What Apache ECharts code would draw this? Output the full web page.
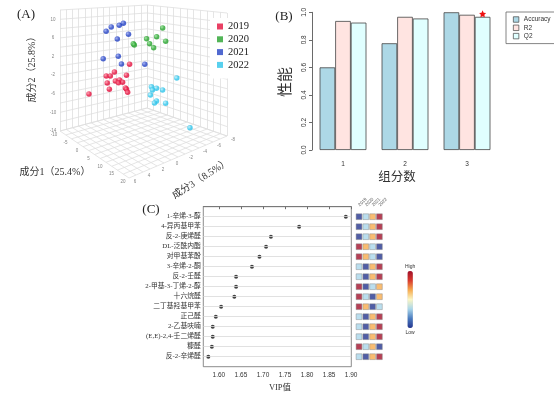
<!DOCTYPE html>
<html><head><meta charset="utf-8">
<script src="https://cdn.jsdelivr.net/npm/echarts@6/dist/echarts.min.js"></script>
<style>html,body{margin:0;padding:0;background:#fff}#c{width:554px;height:395px}</style>
</head><body><div id="c"></div>
<script>
// ---------- Panel A data: [成分1, 成分2, 成分3] ----------
const years = ['2019', '2020', '2021', '2022'];
const pts2019 = [[8.6,3.5,2],[7.3,1.0,2],[-1.1,-1.0,2],[0.6,-0.6,2],[2.3,0.6,2],[-0.7,-2.4,2],[2.7,-1.2,2],[4.4,-0.6,2],[5.7,-0.8,2],[4.0,-1.3,2],[6.9,-1.7,2],[7.3,-1.9,2],[7.8,-2.4,2],[0.2,-3.5,2],[-8.3,-6.7,2]];
const pts2020 = [[11.1,10.1,-2],[8.7,7.9,-2],[12.3,7.5,-2],[4.7,6.9,-2],[5.9,6.0,-2],[7.5,5.4,-2],[-0.6,5.0,-2],[-0.2,4.8,-2]];
const pts2021 = [[-3.8,7.9,1],[-1.7,9.2,1],[1.6,10.1,1],[3.3,10.8,1],[5.4,8.8,1],[0.8,7.0,1],[1.2,3.4,1],[-5.0,1.6,1],[2.5,2.0,1],[12.1,3.8,1]];
const pts2022 = [[14.0,-0.3,-3],[4.0,-4.0,-3],[6.0,-3.9,-3],[4.4,-4.6,-3],[8.4,-3.8,-3],[3.6,-5.9,-3],[6.0,-6.7,-3],[5.2,-7.3,-3],[9.6,-6.4,-3],[19.2,-9.5,-3]];
const pc1Ticks = [-10, -5, 0, 5, 10, 15, 20];
const pc2Ticks = [-14, -10, -6, -2, 2, 6, 10];
const pc3Ticks = [6, 4, 2, 0, -2, -4, -6, -8];
const pc1Range = [-10, 20], pc2Range = [-14, 12], pc3Range = [6, -8];

// ---------- Panel B data ----------
const components = ['1', '2', '3'];
const accuracy = [0.60, 0.775, 1.0];
const r2 = [0.937, 0.967, 0.982];
const q2 = [0.925, 0.955, 0.967];

// ---------- Panel C data ----------
const compounds = ['1-辛烯-3-醇','4-异丙基甲苯','反-2-庚烯醛','DL-泛酰内酯','对甲基苯酚','3-辛烯-2-酮','反-2-壬醛','2-甲基-3-丁烯-2-醇','十六烷醛','二丁基羟基甲苯','正己醛','2-乙基呋喃','(E,E)-2,4-壬二烯醛','糠醛','反-2-辛烯醛'];
const vip = [1.888,1.782,1.718,1.707,1.692,1.675,1.639,1.639,1.635,1.605,1.593,1.586,1.586,1.584,1.576];
const vipTicks = [1.60,1.65,1.70,1.75,1.80,1.85,1.90];
const heatValues = [[1,2,3,4],[1,2,3,4],[1,2,3,4],[4,3,2,1],[4,3,2,1],[2,1,3,4],[2,1,3,4],[4,1,2,3],[4,2,1,3],[4,3,1,2],[2,1,3,4],[2,1,3,4],[2,1,3,4],[4,2,3,1],[2,1,3,4]];

// ---------- styling ----------
const SERIF = "'Liberation Serif','Times New Roman','Noto Sans CJK SC',serif";
const SANS = "'Liberation Sans',Arial,sans-serif";
const yearColors = ['#e3103d', '#27a22d', '#2543c4', '#2ec4ea'];
const yearLight = ['#ff8aa0', '#8de08f', '#8f9ff0', '#b5f0ff'];

// projected box corners (screen layout of the 3D frame)
const box = {L:[60,131], F:[129,178], R:[227,136], B:[147,108], hL:121, hF:140, hR:123, hB:103};
function proj(p1, p2, p3) {
  const a = (p1 - pc1Range[0]) / (pc1Range[1] - pc1Range[0]);
  const b = (pc3Range[0] - p3) / (pc3Range[0] - pc3Range[1]);
  const c = (p2 - pc2Range[0]) / (pc2Range[1] - pc2Range[0]);
  const wL = (1-a)*(1-b), wF = a*(1-b), wR = a*b, wB = (1-a)*b;
  const x = wL*box.L[0] + wF*box.F[0] + wR*box.R[0] + wB*box.B[0];
  const yf = wL*box.L[1] + wF*box.F[1] + wR*box.R[1] + wB*box.B[1];
  const h = wL*box.hL + wF*box.hF + wR*box.hR + wB*box.hB;
  return [x, yf - c*h];
}
const segs = [];
function seg(p, q) { segs.push({coords: [proj(...p), proj(...q)]}); }
for (let v = pc3Range[0]; v >= pc3Range[1]; v -= 1) {
  seg([pc1Range[0], pc2Range[0], v], [pc1Range[0], pc2Range[1], v]);
  seg([pc1Range[0], pc2Range[0], v], [pc1Range[1], pc2Range[0], v]);
}
for (let u = pc1Range[0]; u <= pc1Range[1] + 1e-9; u += 2.5) {
  seg([u, pc2Range[0], pc3Range[1]], [u, pc2Range[1], pc3Range[1]]);
  seg([u, pc2Range[0], pc3Range[0]], [u, pc2Range[0], pc3Range[1]]);
}
for (let w = pc2Range[0]; w <= pc2Range[1] + 1e-9; w += 2) {
  seg([pc1Range[0], w, pc3Range[0]], [pc1Range[0], w, pc3Range[1]]);
  seg([pc1Range[0], w, pc3Range[1]], [pc1Range[1], w, pc3Range[1]]);
}
const tickLabels = [];
pc2Ticks.forEach(t => { const p = proj(pc1Range[0], t, pc3Range[0]); tickLabels.push([p[0]-7, p[1], String(t)]); });
pc1Ticks.forEach(t => { const p = proj(t, pc2Range[0], pc3Range[0]); tickLabels.push([p[0]-6, p[1]+4, String(t)]); });
pc3Ticks.forEach(t => { const p = proj(pc1Range[1], pc2Range[0], t); tickLabels.push([p[0]+6, p[1]+4, String(t)]); });

const yearSets = [pts2019, pts2020, pts2021, pts2022];
const scatterSeries = yearSets.map((pts, i) => ({
  type: 'scatter', name: years[i], xAxisIndex: 0, yAxisIndex: 0, z: 5,
  symbol: 'circle', symbolSize: 5.5,
  itemStyle: { color: new echarts.graphic.RadialGradient(0.35, 0.35, 0.75, [
    {offset: 0, color: yearLight[i]}, {offset: 0.55, color: yearColors[i]}, {offset: 1, color: yearColors[i]}]) },
  data: pts.map(p => proj(p[0], p[1], p[2]))
}));

const heatData = [];
heatValues.forEach((row, r) => row.forEach((v, c) => heatData.push([c + 1, r + 1, v])));

const chart = echarts.init(document.getElementById('c'), null, {renderer: 'canvas'});
chart.setOption({
  animation: false,
  backgroundColor: '#fff',
  grid: [
    {left: 0, top: 0, width: 554, height: 395},
    {left: 312, top: 12.3, width: 186, height: 137.7},
    {left: 203.3, top: 206.7, width: 148, height: 160, show: true, borderColor: '#6e6e6e', borderWidth: 0.8},
    {left: 352.2, top: 206.7, width: 34, height: 160}
  ],
  xAxis: [
    {gridIndex: 0, type: 'value', min: 0, max: 554, show: false},
    {gridIndex: 1, type: 'category', data: components,
      axisLine: {show: false}, axisTick: {show: false},
      axisLabel: {fontSize: 6.5, color: '#333', margin: 11, fontFamily: SANS}},
    {gridIndex: 2, type: 'value', min: 1.5646, max: 1.9004,
      axisLine: {show: true, lineStyle: {color: '#6e6e6e', width: 0.8}},
      axisTick: {show: true, length: 2.5, customValues: vipTicks, lineStyle: {color: '#6e6e6e'}},
      axisLabel: {customValues: vipTicks, formatter: v => v.toFixed(2), fontSize: 6.5, color: '#333', margin: 5, fontFamily: SANS},
      splitLine: {show: false}},
    {gridIndex: 3, type: 'value', min: 0, max: 5, position: 'top',
      axisLine: {show: false}, axisTick: {show: false}, splitLine: {show: false},
      axisLabel: {customValues: [1, 2, 3, 4], formatter: v => years[v - 1], rotate: 45, fontSize: 4.5, color: '#555', margin: 1, fontFamily: SANS}}
  ],
  yAxis: [
    {gridIndex: 0, type: 'value', min: 0, max: 395, inverse: true, show: false},
    {gridIndex: 1, type: 'value', min: 0, max: 1, interval: 0.2,
      axisLine: {show: true, lineStyle: {color: '#444', width: 0.8}},
      axisTick: {show: true, length: 3, lineStyle: {color: '#444', width: 0.8}},
      axisLabel: {rotate: 90, fontSize: 6.5, color: '#333', margin: 4, formatter: v => v.toFixed(1), fontFamily: SANS},
      splitLine: {show: false}},
    {gridIndex: 2, type: 'value', min: 0, max: 16, inverse: true,
      axisLine: {show: false}, axisTick: {show: false}, splitLine: {show: false},
      axisLabel: {customValues: compounds.map((_, i) => i + 1), formatter: v => compounds[v - 1], fontSize: 6.8, color: '#333', margin: 2.5, fontFamily: SERIF}},
    {gridIndex: 3, type: 'value', min: 0, max: 16, inverse: true, show: false}
  ],
  legend: [
    {data: years.map((y, i) => ({name: y, itemStyle: {color: yearColors[i]}})),
      orient: 'vertical', left: 210, top: 18, padding: [3, 3, 8, 7], backgroundColor: '#fff',
      icon: 'rect', itemWidth: 6, itemHeight: 6, itemGap: 1.8,
      textStyle: {fontSize: 10.5, lineHeight: 11, color: '#222', fontFamily: SERIF}},
    {data: [
        {name: 'Accuracy', itemStyle: {color: '#add8e6', borderColor: '#444', borderWidth: 0.7}},
        {name: 'R2', itemStyle: {color: '#ffe4e1', borderColor: '#444', borderWidth: 0.7}},
        {name: 'Q2', itemStyle: {color: '#e0ffff', borderColor: '#444', borderWidth: 0.7}}],
      orient: 'vertical', left: 506, top: 12,
      padding: [4, 4, 4, 7], borderColor: '#666', borderWidth: 0.8, backgroundColor: '#fff',
      icon: 'rect', itemWidth: 5.5, itemHeight: 5.5, itemGap: 1.3,
      textStyle: {fontSize: 6.5, lineHeight: 7, color: '#333', fontFamily: SANS}}
  ],
  visualMap: {
    type: 'continuous', seriesIndex: 10, dimension: 2, min: 1, max: 4,
    left: 390, top: 249, itemWidth: 5.5, itemHeight: 57, text: ['High', 'Low'], textGap: 2,
    calculable: false, textStyle: {fontSize: 5, color: '#333', fontFamily: SANS},
    inRange: {color: ['#24358f', '#4a7bc0', '#a9d6ea', '#fbf6c4', '#f7ab4e', '#d93a2c', '#a3102a']}
  },
  graphic: [
    {type: 'text', x: 26, y: 15, style: {text: '(A)', fontSize: 13, fontFamily: SERIF, fill: '#222', align: 'center', verticalAlign: 'middle'}},
    {type: 'text', x: 284, y: 17, style: {text: '(B)', fontSize: 13, fontFamily: SERIF, fill: '#222', align: 'center', verticalAlign: 'middle'}},
    {type: 'text', x: 151, y: 210, style: {text: '(C)', fontSize: 13, fontFamily: SERIF, fill: '#222', align: 'center', verticalAlign: 'middle'}},
    {type: 'text', x: 55, y: 172, style: {text: '成分1（25.4%）', fontSize: 10, fontFamily: SERIF, fill: '#333', align: 'center', verticalAlign: 'middle'}},
    {type: 'text', x: 32, y: 67, rotation: Math.PI / 2, style: {text: '成分2（25.8%）', fontSize: 10, fontFamily: SERIF, fill: '#333', align: 'center', verticalAlign: 'middle'}},
    {type: 'text', x: 201, y: 179, rotation: 0.57, style: {text: '成分3（8.5%）', fontSize: 10, fontFamily: SERIF, fill: '#333', align: 'center', verticalAlign: 'middle'}},
    {type: 'text', x: 286, y: 82, rotation: Math.PI / 2, style: {text: '性能', fontSize: 15, fontFamily: SERIF, fill: '#333', align: 'center', verticalAlign: 'middle'}},
    {type: 'text', x: 397, y: 178, style: {text: '组分数', fontSize: 12.5, fontFamily: SERIF, fill: '#333', align: 'center', verticalAlign: 'middle'}},
    {type: 'text', x: 280, y: 388, style: {text: 'VIP值', fontSize: 8.5, fontFamily: SERIF, fill: '#333', align: 'center', verticalAlign: 'middle'}}
  ],
  series: [
    {type: 'lines', coordinateSystem: 'cartesian2d', xAxisIndex: 0, yAxisIndex: 0, silent: true, z: 1,
      lineStyle: {color: '#dedede', width: 0.8, opacity: 1}, data: segs},
    {type: 'scatter', xAxisIndex: 0, yAxisIndex: 0, symbolSize: 1, silent: true,
      itemStyle: {color: 'rgba(0,0,0,0)'},
      label: {show: true, position: 'inside', formatter: p => p.value[2], fontSize: 4.5, color: '#666', fontFamily: SANS},
      data: tickLabels},
    ...scatterSeries,
    {type: 'bar', name: 'Accuracy', xAxisIndex: 1, yAxisIndex: 1, data: accuracy, barWidth: 15.6, barGap: '0%',
      itemStyle: {color: '#add8e6', borderColor: '#444', borderWidth: 0.8}},
    {type: 'bar', name: 'R2', xAxisIndex: 1, yAxisIndex: 1, data: r2, barWidth: 15.6, barGap: '0%',
      itemStyle: {color: '#ffe4e1', borderColor: '#444', borderWidth: 0.8}},
    {type: 'bar', name: 'Q2', xAxisIndex: 1, yAxisIndex: 1, data: q2, barWidth: 15.6, barGap: '0%',
      itemStyle: {color: '#e0ffff', borderColor: '#444', borderWidth: 0.8},
      markPoint: {silent: true, symbol: 'path://M0,-1L0.29,-0.4 0.95,-0.31 0.48,0.15 0.59,0.81 0,0.5 -0.59,0.81 -0.48,0.15 -0.95,-0.31 -0.29,-0.4Z',
        symbolSize: 7, symbolOffset: [0, -3], itemStyle: {color: '#ee1111'}, label: {show: false},
        data: [{coord: ['3', q2[2]]}]}},
    {type: 'scatter', xAxisIndex: 2, yAxisIndex: 2, symbol: 'circle', symbolSize: 4, z: 4,
      itemStyle: {color: '#111', borderWidth: 0},
      data: vip.map((v, i) => [v, i + 1]),
      markLine: {silent: true, symbol: ['none', 'none'], label: {show: false},
        lineStyle: {color: '#d9d9d9', type: 'solid', width: 0.8},
        data: compounds.map((_, i) => ({yAxis: i + 1}))}},
    {type: 'scatter', xAxisIndex: 3, yAxisIndex: 3, symbol: 'rect', symbolSize: [5.8, 5.8],
      itemStyle: {borderColor: '#8a8a8a', borderWidth: 0.6},
      data: heatData}
  ]
});
</script></body></html>
